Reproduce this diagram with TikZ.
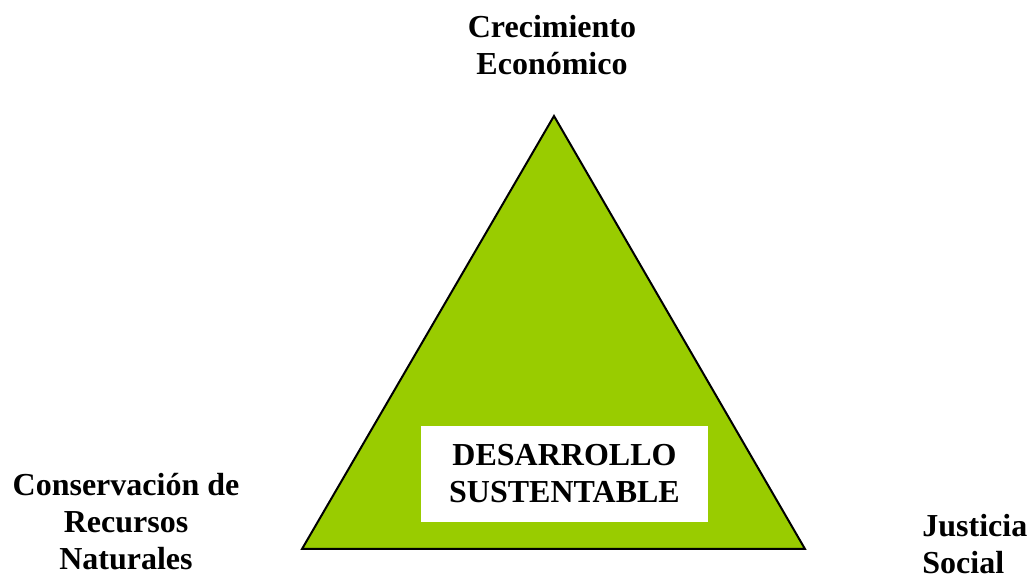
\documentclass[tikz,border=0pt]{standalone}
\usepackage{fontspec}
\setmainfont{Liberation Serif}
\usetikzlibrary{positioning}
\definecolor{verde}{HTML}{99CC00}

\begin{document}
\begin{tikzpicture}[x=0.5pt, y=-0.5pt,
    txt/.style={font=\fontsize{16}{18.5}\selectfont\bfseries, align=center, inner sep=0pt}]
  \useasboundingbox (0,0) rectangle (1029,581);
  \coordinate (A) at (554,116);
  \coordinate (B) at (302,549);
  \coordinate (C) at (805,549);
  \filldraw[fill=verde, line width=1pt] (A) -- (B) -- (C) -- cycle;
  \node (DS) [txt, fill=white, minimum width=143.5pt, minimum height=48pt] at (564.5,474) {DESARROLLO\\SUSTENTABLE};
  \node (CE) [txt, anchor=north] at (552,15) {Crecimiento\\Económico};
  \node (CR) [txt, anchor=north] at (126,473) {Conservación de\\Recursos\\Naturales};
  \node (JS) [txt, anchor=north west, align=left] at (922,514) {Justicia\\Social};
\end{tikzpicture}
\end{document}
